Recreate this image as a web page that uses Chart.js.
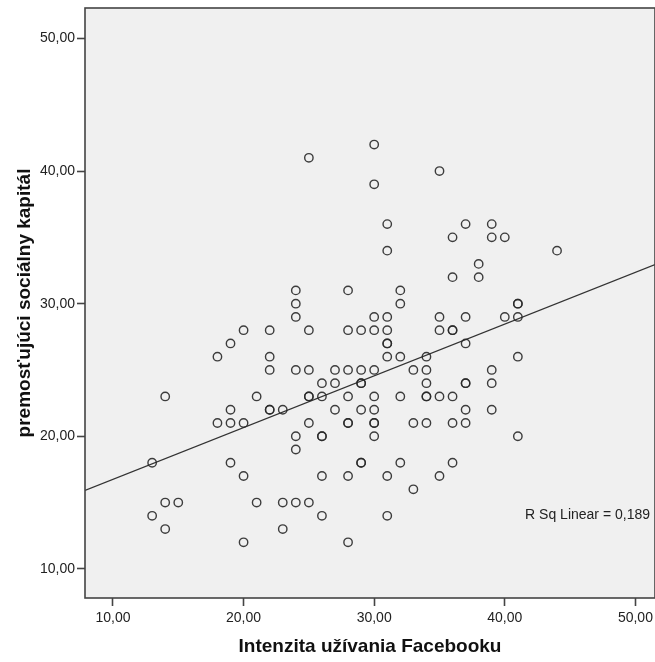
<!DOCTYPE html>
<html>
<head>
<meta charset="utf-8">
<script src="https://cdn.jsdelivr.net/npm/chart.js@4.4.1/dist/chart.umd.min.js"></script>
<style>
  html, body { margin: 0; padding: 0; background: #fff; overflow: hidden; }
  #wrap { width: 655px; height: 662px; position: relative; }
  canvas { display: block; }
</style>
</head>
<body>
<div id="wrap"><canvas id="chart"></canvas></div>
<script>
// Intenzita užívania Facebooku (x) -> premosťujúci sociálny kapitál (y), grouped by x
const intensityLevels = [13, 14, 15, 18, 19, 20, 21, 22, 23, 24, 25, 26, 27, 28,
  29, 30, 31, 32, 33, 34, 35, 36, 37, 38, 39, 40, 41, 44];
const capitalByLevel = [
  [18, 14],
  [23, 15, 13],
  [15],
  [26, 21],
  [27, 22, 21, 18],
  [28, 21, 17, 12],
  [23, 15],
  [28, 26, 25, 22, 22],
  [22, 15, 13],
  [31, 30, 29, 25, 20, 19, 15],
  [41, 28, 25, 23, 23, 21, 15],
  [24, 23, 20, 20, 17, 14],
  [25, 24, 22],
  [31, 28, 25, 23, 21, 21, 17, 12],
  [28, 25, 24, 24, 22, 18, 18],
  [42, 39, 29, 28, 25, 23, 22, 21, 21, 20],
  [36, 34, 29, 28, 27, 27, 26, 17, 14],
  [31, 30, 26, 23, 18],
  [25, 21, 16],
  [26, 25, 24, 23, 23, 21],
  [40, 29, 28, 23, 17],
  [35, 32, 28, 28, 23, 21, 18],
  [36, 29, 27, 24, 24, 22, 21],
  [33, 32],
  [36, 35, 25, 24, 22],
  [35, 29],
  [30, 30, 29, 26, 20],
  [34],
];
const xTicks = [10, 20, 30, 40, 50];
const yTicks = [10, 20, 30, 40, 50];
const xRange = [7.86, 51.5];
const yRange = [7.8, 52.3];
const rSqLabel = 'R Sq Linear = 0,189';

const points = [];
intensityLevels.forEach((x, i) => {
  capitalByLevel[i].forEach((y) => points.push({ x: x, y: y }));
});

// least squares fit line
function fitLine(pts) {
  const n = pts.length;
  const mx = pts.reduce((s, p) => s + p.x, 0) / n;
  const my = pts.reduce((s, p) => s + p.y, 0) / n;
  let sxy = 0, sxx = 0;
  pts.forEach((p) => {
    sxy += (p.x - mx) * (p.y - my);
    sxx += (p.x - mx) * (p.x - mx);
  });
  const b = sxy / sxx;
  return { a: my - b * mx, b: b };
}
const fit = fitLine(points);
const fitPoints = xRange.map((x) => ({ x: x, y: fit.a + fit.b * x }));

const comma = (v) => Number(v).toFixed(2).replace('.', ',');
const font = 'Liberation Sans, Arial, sans-serif';

const plotFrame = {
  id: 'plotFrame',
  beforeDraw(chart) {
    const { ctx, chartArea: a } = chart;
    ctx.save();
    ctx.fillStyle = '#f0f0f0';
    ctx.fillRect(a.left, a.top, a.right - a.left, a.bottom - a.top);
    ctx.restore();
  },
  afterDraw(chart) {
    const { ctx, chartArea: a } = chart;
    ctx.save();
    ctx.strokeStyle = '#444';
    ctx.lineWidth = 1.6;
    ctx.strokeRect(a.left, a.top, a.right - a.left, a.bottom - a.top);
    ctx.fillStyle = '#222';
    ctx.font = '14px ' + font;
    ctx.textAlign = 'right';
    ctx.textBaseline = 'middle';
    ctx.fillText(rSqLabel, a.right - 5, a.bottom - 83);
    ctx.restore();
  },
};

new Chart(document.getElementById('chart'), {
  type: 'scatter',
  data: {
    datasets: [
      {
        data: points,
        pointStyle: 'circle',
        pointRadius: 4.2,
        pointHoverRadius: 4.2,
        borderWidth: 1.4,
        borderColor: 'rgba(40,40,40,0.9)',
        backgroundColor: 'rgba(0,0,0,0)',
      },
      {
        type: 'line',
        data: fitPoints,
        borderColor: '#333',
        borderWidth: 1.3,
        pointRadius: 0,
        fill: false,
        tension: 0,
      },
    ],
  },
  plugins: [plotFrame],
  options: {
    responsive: true,
    maintainAspectRatio: false,
    animation: false,
    layout: { autoPadding: false, padding: { top: 8, right: 0, left: 0, bottom: 0 } },
    plugins: { legend: { display: false }, tooltip: { enabled: false } },
    scales: {
      x: {
        type: 'linear',
        min: xRange[0],
        max: xRange[1],
        afterBuildTicks: (s) => { s.ticks = xTicks.map((v) => ({ value: v })); },
        afterFit: (s) => { s.height = 64; s.paddingLeft = 0; s.paddingRight = 0; },
        grid: { drawOnChartArea: false, drawTicks: true, tickLength: 8, tickColor: '#444', tickWidth: 1.6 },
        border: { display: false },
        ticks: { callback: comma, color: '#222', padding: 4, font: { family: font, size: 14 }, maxRotation: 0 },
        title: {
          display: true,
          text: 'Intenzita užívania Facebooku',
          color: '#111',
          padding: { top: 0, bottom: 4 },
          font: { family: font, size: 19, weight: 'bold' },
        },
      },
      y: {
        type: 'linear',
        min: yRange[0],
        max: yRange[1],
        afterBuildTicks: (s) => { s.ticks = yTicks.map((v) => ({ value: v })); },
        afterFit: (s) => { s.width = 85; s.paddingTop = 0; s.paddingBottom = 0; },
        grid: { drawOnChartArea: false, drawTicks: true, tickLength: 8, tickColor: '#444', tickWidth: 1.6 },
        border: { display: false },
        ticks: { callback: comma, color: '#222', padding: 2, font: { family: font, size: 14 } },
        title: {
          display: true,
          text: 'premosťujúci sociálny kapitál',
          color: '#111',
          padding: { top: 13, bottom: 0 },
          font: { family: font, size: 19, weight: 'bold' },
        },
      },
    },
  },
});
</script>
</body>
</html>
